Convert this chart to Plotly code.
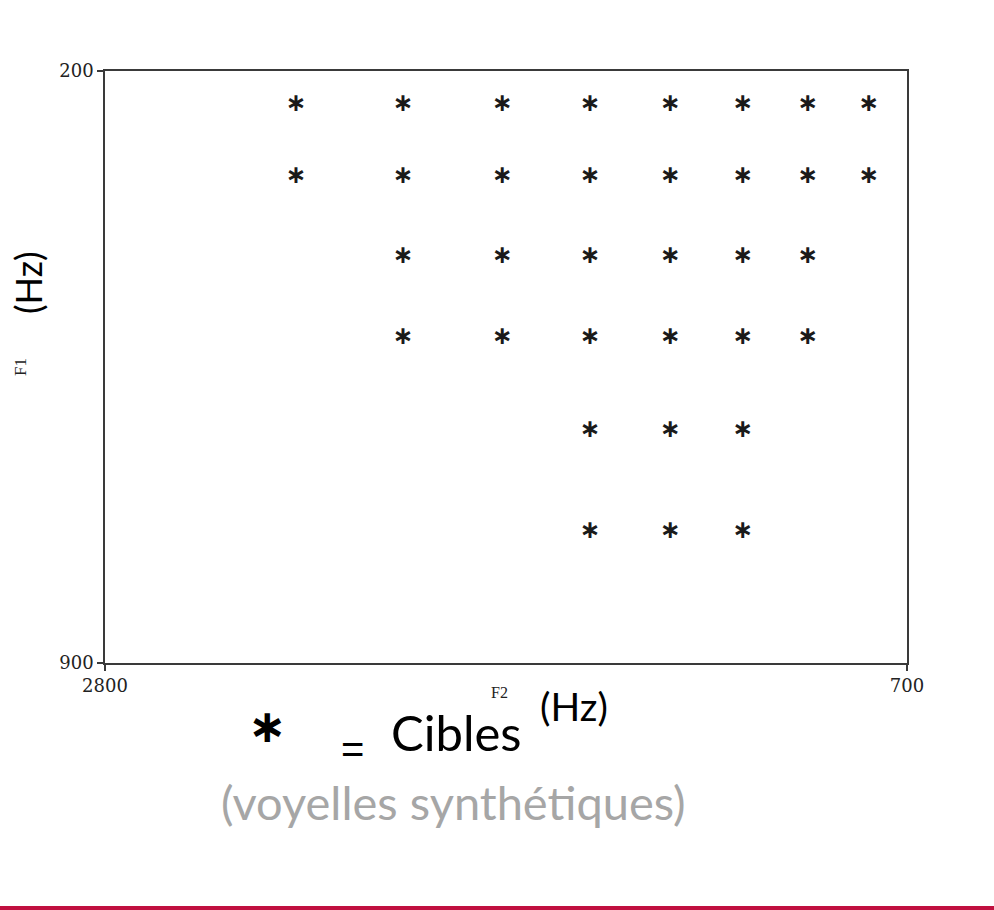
import plotly.graph_objects as go

# Formant targets (Hz)
f2_cols = [2300, 2020, 1760, 1530, 1320, 1130, 960, 800]
f1_rows = [240, 325, 420, 515, 625, 745]
# which F2 columns are present on each F1 row (indices into f2_cols)
row_members = [
    [0, 1, 2, 3, 4, 5, 6, 7],
    [0, 1, 2, 3, 4, 5, 6, 7],
    [1, 2, 3, 4, 5, 6],
    [1, 2, 3, 4, 5, 6],
    [3, 4, 5],
    [3, 4, 5],
]
x_ticks = [2800, 700]
y_ticks = [200, 900]

xs, ys = [], []
for f1, members in zip(f1_rows, row_members):
    for i in members:
        xs.append(f2_cols[i])
        ys.append(f1)

W, H = 994, 910
L, R, T, B = 105, 87, 71, 247
pw, ph = W - L - R, H - T - B


def px(x):
    return (x - L) / pw


def py(y):
    return (H - B - y) / ph


fig = go.Figure()
fig.add_trace(go.Scatter(
    x=xs, y=ys, mode="text", text=["<b>\u2217</b>"] * len(xs),
    textposition="middle center",
    textfont=dict(family="DejaVu Sans", size=25, color="#1a1a1a"),
    hoverinfo="skip", showlegend=False,
))

axis_common = dict(
    showline=True, linecolor="#3a3a3a", linewidth=1.5, mirror=True,
    ticks="outside", ticklen=6, tickwidth=1.5, tickcolor="#3a3a3a",
    showgrid=False, zeroline=False,
    tickfont=dict(family="DejaVu Serif", size=18, color="#222222"),
)
fig.update_xaxes(range=[2800, 700], tickvals=x_ticks, ticktext=[str(v) for v in x_ticks], **axis_common)
fig.update_yaxes(range=[900, 200], tickvals=y_ticks, ticktext=[str(v) for v in y_ticks], **axis_common)

ann = [
    dict(text="F1", x=px(20), y=py(367), textangle=-90,
         font=dict(family="Liberation Serif", size=17, color="#222")),
    dict(text="(Hz)", x=px(28), y=py(283), textangle=-90,
         font=dict(family="Lato", size=36, color="#000")),
    dict(text="F2", x=px(499), y=py(692),
         font=dict(family="Liberation Serif", size=16, color="#222")),
    dict(text="(Hz)", x=px(574), y=py(706),
         font=dict(family="Lato", size=39, color="#000")),
    dict(text="<b>\u2217</b>", x=px(267), y=py(726),
         font=dict(family="DejaVu Sans", size=46, color="#000")),
    dict(text="=", x=px(352), y=py(749),
         font=dict(family="Liberation Sans", size=40, color="#000")),
    dict(text="Cibles", x=px(456), y=py(732),
         font=dict(family="Lato", size=49, color="#000")),
    dict(text="(voyelles synthétiques)", x=px(453), y=py(802),
         font=dict(family="Lato", size=47, color="#a6a6a6")),
]
for a in ann:
    a.update(xref="paper", yref="paper", showarrow=False,
             xanchor="center", yanchor="middle", borderpad=0)
fig.update_layout(annotations=ann)

fig.add_shape(type="rect", xref="paper", yref="paper",
              x0=px(0), x1=px(W), y0=py(910), y1=py(906),
              fillcolor="#c0103f", line=dict(width=0), layer="above")

fig.update_layout(
    width=W, height=H,
    margin=dict(l=L, r=R, t=T, b=B),
    paper_bgcolor="white", plot_bgcolor="white",
    showlegend=False,
)

fig.write_html("out.html")
